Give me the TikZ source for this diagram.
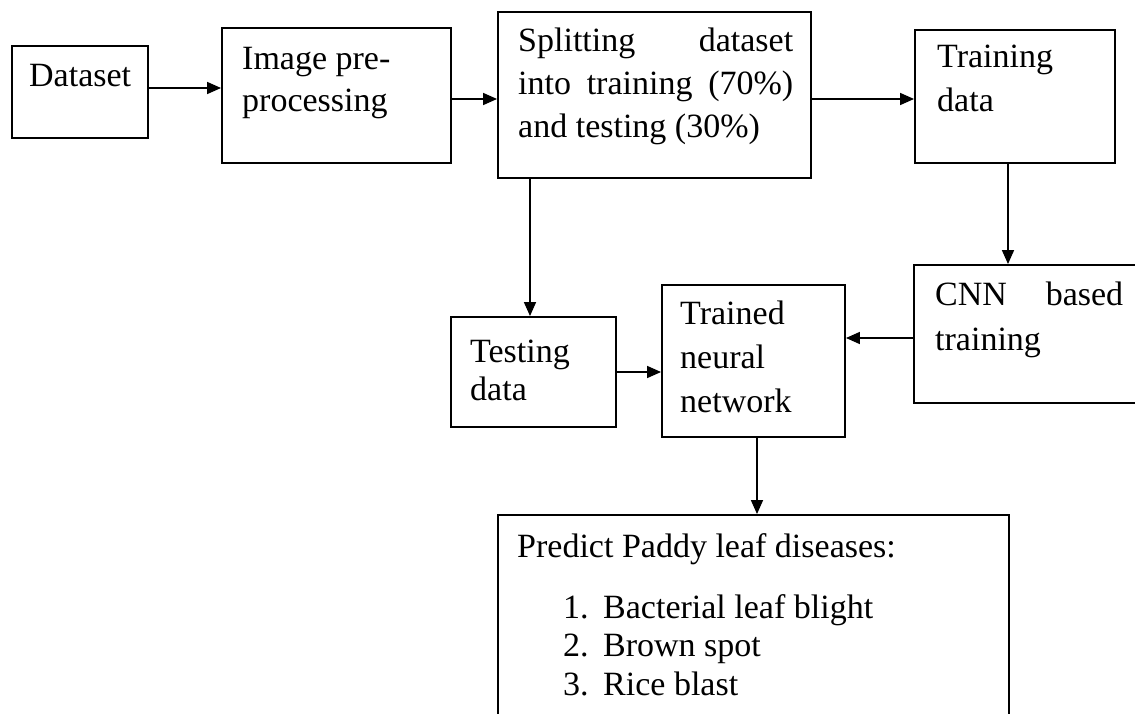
\documentclass[tikz,border=0pt]{standalone}
\usepackage{fontspec}
\setmainfont{Liberation Serif}
\usetikzlibrary{arrows.meta}
\newcommand\boxtext[3]{\parbox[t]{#1}{\fontsize{34}{#2}\selectfont #3}}
\begin{document}
\begin{tikzpicture}[x=1pt,y=-1pt,
  box/.style={draw=black, line width=1.9pt, rectangle, inner sep=0pt},
  lbl/.style={anchor=base west, inner sep=0pt, font=\fontsize{34}{43}\selectfont},
  arr/.style={line width=1.6pt, -{Triangle[length=14pt,width=12pt]}}]
\clip (0,0) rectangle (1135,714);
\fill[white] (0,0) rectangle (1135,714);
% boxes
\node[box, minimum width=136pt, minimum height=92pt]  (ds)      at (80,92) {};
\node[box, minimum width=229pt, minimum height=135pt] (img)     at (336.5,95.5) {};
\node[box, minimum width=313pt, minimum height=166pt] (split)   at (654.5,95) {};
\node[box, minimum width=200pt, minimum height=133pt] (train)   at (1015,96.5) {};
\node[box, minimum width=246pt, minimum height=138pt] (cnn)     at (1037,334) {};
\node[box, minimum width=165pt, minimum height=110pt] (test)    at (533.5,372) {};
\node[box, minimum width=183pt, minimum height=152pt] (trained) at (753.5,361) {};
\node[box, minimum width=511pt, minimum height=245pt] (pred)    at (753.5,637.5) {};
% texts
\node[lbl] (tds) at (29,87) {Dataset};
\node[lbl] (timg) at (242,70) {\boxtext{205pt}{42pt}{Image pre-\\processing}};
\node[lbl] (tsplit) at (518,52) {\boxtext{285pt}{43pt}{\makebox[275pt][s]{Splitting dataset}\\\makebox[275pt][s]{into training (70\%)}\\and testing (30\%)}};
\node[lbl] (ttrain) at (937,68) {\boxtext{170pt}{44pt}{Training\\data}};
\node[lbl] (tcnn) at (935,305) {\boxtext{195pt}{45pt}{\makebox[188pt][s]{CNN based}\\training}};
\node[lbl] (ttest) at (470,362) {\boxtext{140pt}{38pt}{Testing\\data}};
\node[lbl] (ttrained) at (680,324) {\boxtext{160pt}{44pt}{Trained\\neural\\network}};
\node[lbl] (tpred) at (517,557) {Predict Paddy leaf diseases:};
\node[lbl] (tlist) at (563,618) {\boxtext{420pt}{38.5pt}{\makebox[40pt][l]{1.}Bacterial leaf blight\\\makebox[40pt][l]{2.}Brown spot\\\makebox[40pt][l]{3.}Rice blast}};
% helper coordinates
\coordinate (h88) at (0,88);
\coordinate (h99) at (0,99);
\coordinate (h338) at (0,338);
\coordinate (h372) at (0,372);
\coordinate (v1008) at (1008,0);
\coordinate (v530) at (530,0);
\coordinate (v757) at (757,0);
% connectors
\draw[arr] (ds.east |- h88) -- (img.west |- h88);
\draw[arr] (img.east |- h99) -- (split.west |- h99);
\draw[arr] (split.east |- h99) -- (train.west |- h99);
\draw[arr] (train.south -| v1008) -- (cnn.north -| v1008);
\draw[arr] (split.south -| v530) -- (test.north -| v530);
\draw[arr] (cnn.west |- h338) -- (trained.east |- h338);
\draw[arr] (test.east |- h372) -- (trained.west |- h372);
\draw[arr] (trained.south -| v757) -- (pred.north -| v757);
\end{tikzpicture}
\end{document}
